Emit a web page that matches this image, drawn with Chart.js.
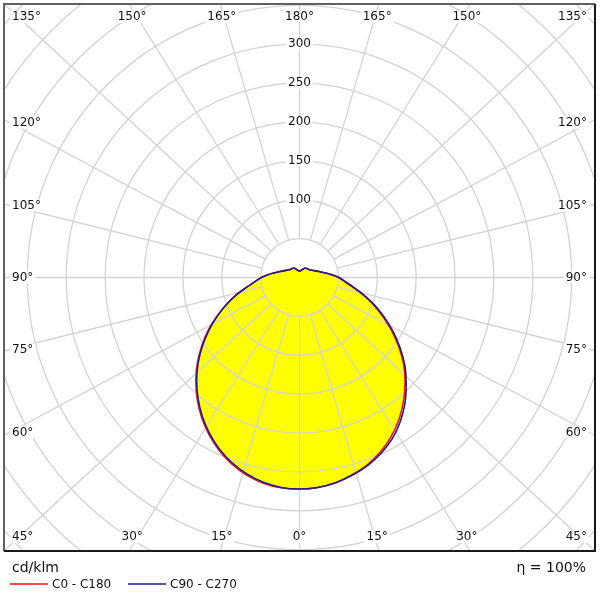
<!DOCTYPE html>
<html>
<head>
<meta charset="utf-8">
<script src="https://cdn.jsdelivr.net/npm/chart.js@4.4.0/dist/chart.umd.min.js"></script>
<style>
  html, body { margin: 0; padding: 0; background: #fff; }
  #wrap { width: 600px; height: 600px; }
</style>
</head>
<body>
<div id="wrap"><canvas id="chart" width="600" height="600"></canvas></div>
<script>
// gamma angles in degrees, 0 = straight down, 180 = straight up
const gammaAngles = [0, 5, 10, 15, 20, 25, 30, 35, 40, 45, 50, 55, 60, 65, 70, 75, 80, 85, 90,
  95, 100, 105, 110, 115, 120, 125, 130, 135, 140, 145, 150, 155, 160, 165, 170, 175, 180];

// luminous intensity, cd/klm, per C-plane
const c0 = [272, 271, 268, 262.5, 256, 247, 236, 223, 208, 192, 175, 156, 137, 118, 101, 84, 69, 58, 50,
  41, 34, 28, 24, 21, 18.5, 17, 16, 15.5, 15, 14.5, 14, 12.5, 11, 10, 9, 8.5, 8.5];
const c180 = [272, 271.5, 268.5, 263, 255, 245, 233, 219.5, 204.5, 188.5, 171.5, 153.5, 135.5, 117, 99.5, 83, 68, 57, 49,
  41, 34, 28, 24, 21, 19, 17, 16, 15.5, 15, 14.5, 14, 12.5, 11, 10, 9, 8.5, 8.5];
const c90 = [272, 271, 268, 263, 257, 249, 239, 226, 211, 194, 177, 158, 139, 120, 102, 85, 70, 59, 51,
  42, 34, 28, 24, 21, 18.5, 17, 16, 15.5, 15, 14.5, 14, 12.5, 11, 10, 9, 8.5, 8.5];
const c270 = [272, 271, 267.5, 261.5, 253.5, 243.5, 231.5, 218, 203, 187, 170, 152, 134, 116, 99, 83, 68, 57, 49,
  41, 34, 28, 24, 21, 19, 17, 16, 15.5, 15, 14.5, 14, 12.5, 11, 10, 9, 8.5, 8.5];

const ringValues = [50, 100, 150, 200, 250, 300, 350, 400, 450, 500, 550];
const ringLabels = [100, 150, 200, 250, 300];
const spokeAngles = [0, 15, 30, 45, 60, 75, 90, 105, 120, 135, 150, 165, 180];
const seriesNames = ['C0 - C180', 'C90 - C270'];
const unitLabel = 'cd/klm';
const efficiencyLabel = 'η = 100%';

const FONT = '"DejaVu Sans", Verdana, sans-serif';

// left half runs 180 -> 0, right half 0 -> 180, so the curve closes at the top
function planePoints(left, right) {
  const pts = [];
  for (let i = gammaAngles.length - 1; i >= 0; i--) {
    const a = gammaAngles[i] * Math.PI / 180;
    pts.push({ x: -left[i] * Math.sin(a), y: -left[i] * Math.cos(a) });
  }
  for (let i = 1; i < gammaAngles.length; i++) {
    const a = gammaAngles[i] * Math.PI / 180;
    pts.push({ x: right[i] * Math.sin(a), y: -right[i] * Math.cos(a) });
  }
  return pts;
}

// where a spoke meets the (scaled) plot box
function spokeEnd(area, cx, cy, g, side, k) {
  const hw = (area.right - area.left) / 2 * k;
  const hh = (area.bottom - area.top) / 2 * k;
  const rad = g * Math.PI / 180;
  if (g <= 45) return { x: cx + side * hw * Math.tan(rad), y: cy + hh, edge: 'bottom' };
  if (g >= 135) return { x: cx + side * hw * Math.tan(Math.PI - rad), y: cy - hh, edge: 'top' };
  return { x: cx + side * hw, y: cy - hh * Math.tan(rad - Math.PI / 2), edge: 'side' };
}

function labelBox(ctx, text, x, y) {
  const w = ctx.measureText(text).width;
  ctx.fillStyle = '#ffffff';
  ctx.fillRect(x - w / 2 - 2, y - 6, w + 4, 12);
  ctx.fillStyle = '#111111';
  ctx.fillText(text, x, y);
}

const polarGrid = {
  id: 'polarGrid',
  beforeDatasetsDraw(chart) {
    const { ctx, chartArea: area, scales: { x, y } } = chart;
    const cx = x.getPixelForValue(0), cy = y.getPixelForValue(0);
    const ppu = x.getPixelForValue(1) - cx;
    ctx.save();
    ctx.beginPath();
    ctx.rect(area.left, area.top, area.width, area.height);
    ctx.clip();
    ctx.strokeStyle = '#d3d3d3';
    ctx.lineWidth = 1.3;
    ringValues.forEach((v) => {
      ctx.beginPath();
      ctx.arc(cx, cy, v * ppu, 0, Math.PI * 2);
      ctx.stroke();
    });
    const r0 = ringValues[0] * ppu;
    spokeAngles.forEach((g) => {
      [-1, 1].forEach((side) => {
        if ((g === 0 || g === 180) && side === -1) return;
        const end = spokeEnd(area, cx, cy, g, side, 1);
        const dx = end.x - cx, dy = end.y - cy, len = Math.hypot(dx, dy);
        ctx.beginPath();
        ctx.moveTo(cx + dx / len * r0, cy + dy / len * r0);
        ctx.lineTo(end.x, end.y);
        ctx.stroke();
      });
    });
    ctx.restore();
  },
  afterDatasetsDraw(chart) {
    const { ctx, chartArea: area, scales: { x, y } } = chart;
    const cx = x.getPixelForValue(0), cy = y.getPixelForValue(0);
    const ppu = x.getPixelForValue(1) - cx;
    ctx.save();
    ctx.font = '12px ' + FONT;
    ctx.textAlign = 'center';
    ctx.textBaseline = 'middle';

    // intensity labels along the upward axis
    ringLabels.forEach((v) => labelBox(ctx, String(v), cx, cy - v * ppu));

    // angle labels round the box
    spokeAngles.forEach((g) => {
      [-1, 1].forEach((side) => {
        if ((g === 0 || g === 180) && side === -1) return;
        const text = g + '°';
        const w = ctx.measureText(text).width;
        const p = spokeEnd(area, cx, cy, g, side, 0.981);
        let lx = p.x, ly = p.y;
        if (p.edge === 'side') {
          lx = side < 0 ? area.left + 8 + w / 2 : area.right - 8 - w / 2;
        } else {
          ly = p.edge === 'bottom' ? area.bottom - 14 : area.top + 13;
          lx = Math.min(Math.max(lx, area.left + 8 + w / 2), area.right - 8 - w / 2);
        }
        labelBox(ctx, text, lx, ly);
      });
    });

    // frame
    ctx.lineWidth = 2;
    ctx.strokeStyle = '#606060';
    ctx.beginPath();
    ctx.moveTo(area.left, area.bottom);
    ctx.lineTo(area.left, area.top);
    ctx.lineTo(area.right, area.top);
    ctx.stroke();
    ctx.strokeStyle = '#1a1a1a';
    ctx.beginPath();
    ctx.moveTo(area.right, area.top);
    ctx.lineTo(area.right, area.bottom);
    ctx.lineTo(area.left, area.bottom);
    ctx.stroke();

    // footer: unit, efficiency, legend
    ctx.fillStyle = '#111111';
    ctx.font = '14px ' + FONT;
    ctx.textAlign = 'left';
    ctx.fillText(unitLabel, area.left + 8, area.bottom + 17);
    ctx.textAlign = 'right';
    ctx.fillText(efficiencyLabel, area.right - 9, area.bottom + 17);

    ctx.font = '12px ' + FONT;
    ctx.textAlign = 'left';
    const legendY = area.bottom + 33;
    const starts = [area.left + 6, area.left + 124];
    chart.data.datasets.slice(1).forEach((ds, i) => {
      const lx = starts[i];
      ctx.strokeStyle = ds.borderColor;
      ctx.lineWidth = 1.5;
      ctx.beginPath();
      ctx.moveTo(lx, legendY);
      ctx.lineTo(lx + 38, legendY);
      ctx.stroke();
      ctx.fillStyle = '#111111';
      ctx.fillText(ds.label, lx + 42, legendY + 1);
    });
    ctx.restore();
  },
};

const ctx = document.getElementById('chart').getContext('2d');

new Chart(ctx, {
  type: 'scatter',
  data: {
    datasets: [
      {
        label: 'fill',
        data: planePoints(c180, c0),
        showLine: true,
        tension: 0.3,
        backgroundColor: '#ffff00',
        borderColor: 'rgba(0,0,0,0)',
        borderWidth: 0,
        pointRadius: 0,
        fill: 'shape',
        order: 3,
      },
      {
        label: seriesNames[0],
        data: planePoints(c180, c0),
        showLine: true,
        tension: 0.3,
        borderColor: '#ee1111',
        borderWidth: 1.6,
        pointRadius: 0,
        fill: false,
        order: 2,
      },
      {
        label: seriesNames[1],
        data: planePoints(c270, c90),
        showLine: true,
        tension: 0.3,
        borderColor: '#1c1c9c',
        borderWidth: 1.6,
        pointRadius: 0,
        fill: false,
        order: 1,
      },
    ],
  },
  options: {
    responsive: false,
    animation: false,
    events: [],
    layout: {
      padding: { left: 4, top: 4, right: 5, bottom: 49 },
    },
    scales: {
      x: { type: 'linear', min: -380, max: 380, display: false },
      y: { type: 'linear', min: -351.7, max: 351.7, display: false },
    },
    plugins: {
      legend: { display: false },
      tooltip: { enabled: false },
      filler: { drawTime: 'beforeDatasetsDraw' },
    },
  },
  plugins: [polarGrid],
});
</script>
</body>
</html>
